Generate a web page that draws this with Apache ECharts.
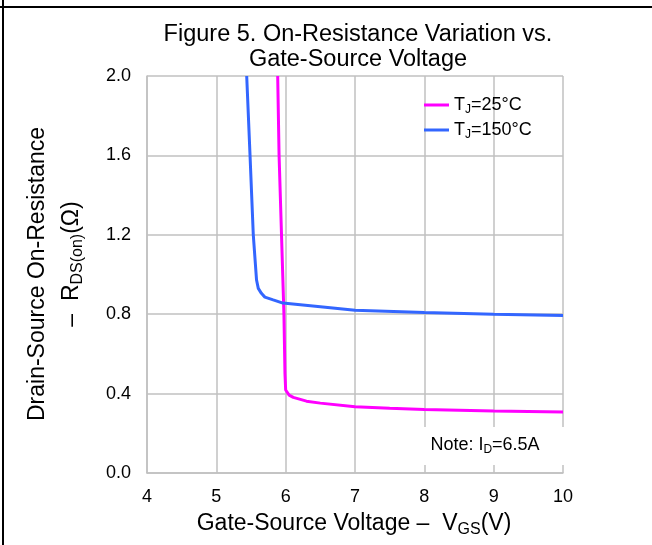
<!DOCTYPE html>
<html>
<head>
<meta charset="utf-8">
<script src="https://cdn.jsdelivr.net/npm/echarts@6/dist/echarts.min.js"></script>
<style>
html,body{margin:0;padding:0;background:#fff;}
#c{width:652px;height:545px;}
</style>
</head>
<body>
<div id="c"></div>
<script>
// Data
const vgs25 = [5.885, 5.905, 5.94, 5.975, 5.99, 6.0, 6.05, 6.11, 6.3, 6.5, 7.0, 7.5, 8.0, 9.0, 10.0];
const rds25 = [2.0, 1.6, 1.2, 0.8, 0.5, 0.418, 0.392, 0.381, 0.362, 0.352, 0.334, 0.326, 0.320, 0.312, 0.307];
const vgs150 = [5.438, 5.486, 5.533, 5.58, 5.605, 5.65, 5.70, 5.82, 5.96, 6.5, 7.0, 8.0, 9.0, 10.0];
const rds150 = [2.0, 1.6, 1.2, 0.972, 0.93, 0.905, 0.886, 0.872, 0.856, 0.838, 0.820, 0.808, 0.800, 0.794];
const xTicks = [4, 5, 6, 7, 8, 9, 10];
const yTicks = [0.0, 0.4, 0.8, 1.2, 1.6, 2.0];
const seriesNames = ['T{s|J}=25°C', 'T{s|J}=150°C'];

const FONT = 'Liberation Sans, Arial, sans-serif';
const chart = echarts.init(document.getElementById('c'), null, {renderer: 'canvas'});

function pairs(xs, ys) { return xs.map((x, i) => [x, ys[i]]); }

const option = {
  backgroundColor: '#fff',
  animation: false,
  title: {
    text: 'Figure 5. On-Resistance Variation vs.\nGate-Source Voltage',
    left: 353, top: 17, textAlign: 'center',
    textStyle: {fontFamily: FONT, fontSize: 23.5, fontWeight: 'normal', color: '#000', lineHeight: 25}
  },
  legend: {
    orient: 'vertical', left: 419, top: 91,
    icon: 'rect', itemWidth: 25, itemHeight: 3, itemGap: 5, itemStyle: {borderWidth: 0},
    data: seriesNames,
    formatter: n => '{a|' + n.replace('{s|J}', '}{s|J}{a|') + '}',
    textStyle: {
      fontFamily: FONT, color: '#000',
      rich: {
        a: {fontFamily: FONT, fontSize: 18, color: '#000', lineHeight: 22},
        s: {fontFamily: FONT, fontSize: 12, color: '#000', verticalAlign: 'bottom'}
      }
    }
  },
  grid: {left: 147, top: 76, width: 416, height: 397, containLabel: false},
  xAxis: {
    type: 'value', min: xTicks[0], max: xTicks[xTicks.length - 1], interval: 1,
    axisLine: {show: true, lineStyle: {color: '#c0c0c0', width: 1.5}},
    axisTick: {show: false},
    splitLine: {show: true, lineStyle: {color: '#c0c0c0', width: 1.5}},
    axisLabel: {fontFamily: FONT, fontSize: 18, color: '#000', margin: 15}
  },
  yAxis: {
    type: 'value', min: yTicks[0], max: yTicks[yTicks.length - 1], interval: 0.4,
    axisLine: {show: true, lineStyle: {color: '#c0c0c0', width: 1.5}},
    axisTick: {show: false},
    splitLine: {show: true, lineStyle: {color: '#c0c0c0', width: 1.5}},
    axisLabel: {fontFamily: FONT, fontSize: 18, color: '#000', margin: 16, formatter: v => v.toFixed(1)}
  },
  series: [
    {name: seriesNames[0], type: 'line', data: pairs(vgs25, rds25), showSymbol: false, symbol: 'none',
     lineStyle: {color: '#ff00ff', width: 3}, itemStyle: {color: '#ff00ff'}, clip: true, z: 3},
    {name: seriesNames[1], type: 'line', data: pairs(vgs150, rds150), showSymbol: false, symbol: 'none',
     lineStyle: {color: '#3366ff', width: 3}, itemStyle: {color: '#3366ff'}, clip: true, z: 3}
  ],
  graphic: [
    {type: 'line', shape: {x1: 0, y1: 7, x2: 652, y2: 7}, style: {stroke: '#000', lineWidth: 2}, z: 10},
    {type: 'line', shape: {x1: 3, y1: 0, x2: 3, y2: 545}, style: {stroke: '#000', lineWidth: 2}, z: 10},
    {type: 'rect', shape: {x: 412, y: 427, width: 155, height: 38}, style: {fill: '#fff'}, z: 5},
    {type: 'text', x: 485, y: 445, z: 6,
     style: {text: '{a|Note: I}{s|D}{a|=6.5A}', align: 'center', verticalAlign: 'middle',
       rich: {a: {fontFamily: FONT, fontSize: 18, fill: '#000', lineHeight: 22},
              s: {fontFamily: FONT, fontSize: 12, fill: '#000', verticalAlign: 'bottom'}}}},
    {type: 'text', x: 354, y: 524, z: 6,
     style: {text: '{a|Gate-Source Voltage \u2013  V}{s|GS}{a|(V)}', align: 'center', verticalAlign: 'middle',
       rich: {a: {fontFamily: FONT, fontSize: 23, fill: '#000', lineHeight: 28},
              s: {fontFamily: FONT, fontSize: 16, fill: '#000', verticalAlign: 'bottom'}}}},
    {type: 'text', x: 38, y: 274, rotation: Math.PI / 2, z: 6,
     style: {text: 'Drain-Source On-Resistance', align: 'center', verticalAlign: 'middle',
       font: '23px ' + FONT, fill: '#000'}},
    {type: 'text', x: 72, y: 264, rotation: Math.PI / 2, z: 6,
     style: {text: '{a|\u2013  R}{s|DS(on)}{a|(\u03A9)}', align: 'center', verticalAlign: 'middle',
       rich: {a: {fontFamily: FONT, fontSize: 23, fill: '#000', lineHeight: 28},
              s: {fontFamily: FONT, fontSize: 16, fill: '#000', verticalAlign: 'bottom'}}}}
  ]
};
chart.setOption(option);
</script>
</body>
</html>
